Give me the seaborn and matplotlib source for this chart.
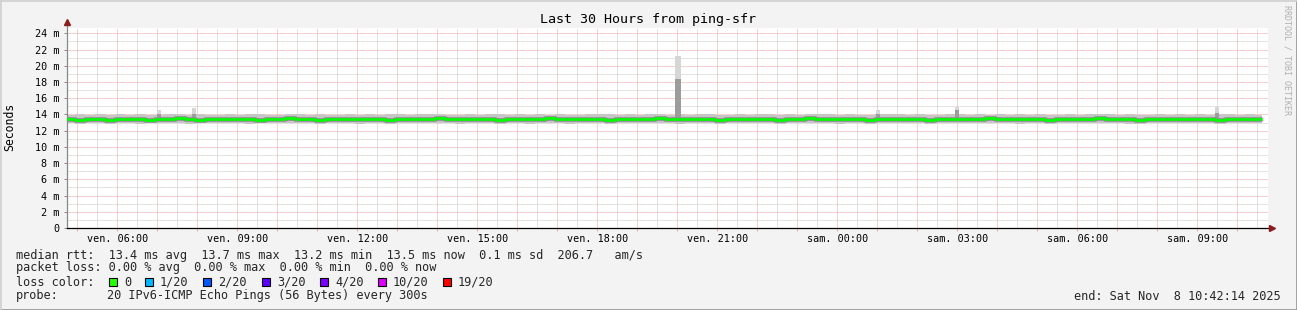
import numpy as np
import pandas as pd
import matplotlib
matplotlib.use("Agg")
import matplotlib.pyplot as plt
import seaborn as sns
from matplotlib.patches import Rectangle
from matplotlib.lines import Line2D

# ---------------- data ----------------
START_HOUR = 4.74          # left edge of the graph (Fri 04:4x)
DATA_END = 34.62           # last data point (Sat ~10:37)
STEP_H = 0.25              # 15-minute aggregation of the readings

median_ms = [
    13.40, 13.35, 13.45, 13.40, 13.35, 13.40, 13.45, 13.40,
    13.35, 13.40, 13.45, 13.50, 13.40, 13.35, 13.40, 13.45,
    13.40, 13.45, 13.40, 13.35, 13.40, 13.45, 13.50, 13.45,
    13.40, 13.35, 13.40, 13.45, 13.40, 13.40, 13.45, 13.40,
    13.35, 13.40, 13.45, 13.40, 13.45, 13.50, 13.45, 13.40,
    13.40, 13.45, 13.40, 13.35, 13.40, 13.45, 13.40, 13.45,
    13.50, 13.45, 13.40, 13.40, 13.45, 13.40, 13.35, 13.40,
    13.45, 13.40, 13.45, 13.50, 13.45, 13.40, 13.40, 13.45,
    13.40, 13.35, 13.40, 13.45, 13.40, 13.45, 13.40, 13.35,
    13.40, 13.45, 13.50, 13.45, 13.40, 13.40, 13.45, 13.40,
    13.35, 13.40, 13.45, 13.40, 13.45, 13.40, 13.35, 13.40,
    13.45, 13.40, 13.40, 13.45, 13.50, 13.45, 13.40, 13.40,
    13.45, 13.40, 13.35, 13.40, 13.45, 13.40, 13.45, 13.50,
    13.45, 13.40, 13.40, 13.35, 13.40, 13.45, 13.40, 13.45,
    13.40, 13.45, 13.40, 13.35, 13.40, 13.45, 13.40, 13.45,
]
smoke_low_ms = [
    12.90, 12.85, 12.95, 12.90, 12.80, 12.90, 12.95, 12.85,
    12.90, 12.95, 12.90, 13.00, 12.85, 12.90, 12.95, 12.90,
    12.95, 12.90, 12.85, 12.90, 12.95, 12.90, 13.00, 12.95,
    12.90, 12.85, 12.90, 12.95, 12.90, 12.85, 12.95, 12.90,
    12.85, 12.90, 12.95, 12.90, 12.95, 13.00, 12.90, 12.85,
    12.90, 12.95, 12.90, 12.85, 12.90, 12.95, 12.85, 12.90,
    12.95, 12.90, 12.85, 12.90, 12.95, 12.90, 12.85, 12.90,
    12.95, 12.90, 12.95, 13.00, 12.90, 12.85, 12.90, 12.95,
    12.90, 12.85, 12.90, 12.95, 12.90, 12.95, 12.90, 12.85,
    12.90, 12.95, 13.00, 12.95, 12.90, 12.85, 12.95, 12.90,
    12.85, 12.90, 12.95, 12.90, 12.95, 12.90, 12.85, 12.90,
    12.95, 12.90, 12.90, 12.95, 13.00, 12.95, 12.90, 12.85,
    12.95, 12.90, 12.85, 12.90, 12.95, 12.90, 12.95, 13.00,
    12.95, 12.90, 12.85, 12.85, 12.90, 12.95, 12.90, 12.95,
    12.90, 12.95, 12.90, 12.85, 12.90, 12.95, 12.90, 12.95,
]
smoke_high_ms = [
    13.95, 14.00, 13.90, 14.00, 13.95, 14.05, 13.95, 14.00,
    13.95, 13.90, 14.00, 14.05, 13.95, 14.00, 13.95, 13.90,
    14.00, 13.95, 14.05, 14.00, 13.95, 13.90, 14.00, 14.05,
    13.95, 14.00, 13.95, 13.90, 14.00, 13.95, 14.00, 13.95,
    14.05, 14.00, 13.95, 14.00, 14.05, 14.00, 13.95, 13.90,
    14.00, 13.95, 14.00, 14.05, 13.95, 14.00, 13.95, 14.00,
    13.95, 14.00, 13.95, 13.90, 14.00, 14.05, 14.00, 13.95,
    14.00, 13.95, 14.05, 14.00, 13.95, 14.00, 13.95, 14.05,
    14.00, 13.95, 13.90, 14.00, 13.95, 14.00, 14.05, 13.95,
    14.00, 13.95, 14.00, 14.05, 14.00, 13.95, 14.00, 13.95,
    13.95, 14.00, 14.05, 14.00, 13.95, 14.00, 13.95, 13.90,
    14.00, 14.05, 13.95, 14.00, 13.95, 14.00, 13.95, 14.00,
    13.95, 14.00, 13.95, 13.90, 14.00, 13.95, 14.00, 14.05,
    14.00, 13.95, 14.00, 13.95, 13.90, 14.00, 13.95, 14.00,
    13.95, 14.00, 13.95, 14.05, 14.00, 13.95, 14.00, 13.95,
]

# isolated 5-minute outliers: start hour, width (h), light top (ms), dark top (ms)
spike_start_h = [7.00, 7.87, 19.94, 24.96, 26.94, 33.44]
spike_width_h = [0.10, 0.10, 0.15, 0.10, 0.10, 0.10]
spike_light_ms = [14.60, 14.80, 21.20, 14.50, 14.90, 14.90]
spike_dark_ms = [14.00, 14.00, 18.40, 14.00, 14.60, 14.20]

y_tick_values = [0, 2, 4, 6, 8, 10, 12, 14, 16, 18, 20, 22, 24]
y_tick_labels = ["0"] + [f"{v} m" for v in y_tick_values[1:]]
x_tick_hours = [6, 9, 12, 15, 18, 21, 24, 27, 30, 33]
x_tick_labels = ["ven. 06:00", "ven. 09:00", "ven. 12:00", "ven. 15:00",
                 "ven. 18:00", "ven. 21:00", "sam. 00:00", "sam. 03:00",
                 "sam. 06:00", "sam. 09:00"]

title = "Last 30 Hours from ping-sfr"
legend_lines = [
    "median rtt:  13.4 ms avg  13.7 ms max  13.2 ms min  13.5 ms now  0.1 ms sd  206.7   am/s",
    "packet loss: 0.00 % avg  0.00 % max  0.00 % min  0.00 % now",
]
loss_labels = ["0", "1/20", "2/20", "3/20", "4/20", "10/20", "19/20"]
loss_colors = ["#26ff00", "#00b8ff", "#0059ff", "#5e00ff", "#7e00ff", "#dd00ff", "#ff0000"]
probe_text = "20 IPv6-ICMP Echo Pings (56 Bytes) every 300s"
end_text = "end: Sat Nov  8 10:42:14 2025"

# ---------------- figure ----------------
W, H = 1297, 310
sns.set_theme(style="white")
plt.rcParams["font.family"] = ["DejaVu Sans Mono", "DejaVu Sans"]

fig = plt.figure(figsize=(W / 100, H / 100), dpi=100, facecolor="#f3f3f3")
AX_L, AX_R, AX_T, AX_B = 67, 1268, 28, 228
ax = fig.add_axes([AX_L / W, (H - AX_B) / H, (AX_R - AX_L) / W, (AX_B - AX_T) / H])
ax.set_facecolor("#ffffff")
PX_PER_H = 40.0
PX_PER_MS = 8.1125
ax.set_xlim(START_HOUR, START_HOUR + (AX_R - AX_L) / PX_PER_H)
ax.set_ylim(0, (AX_B - AX_T) / PX_PER_MS)

# grid
x0, x1 = ax.get_xlim()
y0, y1 = ax.get_ylim()
dot = (0, (1, 1))
half_hours = np.arange(np.ceil(x0 * 2) / 2, x1, 0.5)
minor_x = [h for h in half_hours if abs(h - round(h)) > 1e-6]
major_x = [h for h in half_hours if abs(h - round(h)) <= 1e-6]
GRID_GRAY = "#c9c9c9"
GRID_RED = "#eba4a4"
ax.vlines(minor_x, y0, y1, colors=GRID_GRAY, linestyles=dot, lw=0.72, zorder=0)
ax.hlines(np.arange(1, y1, 2), x0, x1, colors=GRID_GRAY, linestyles=dot, lw=0.72, zorder=0)
ax.vlines(major_x, y0, y1, colors=GRID_RED, linestyles=dot, lw=0.72, zorder=0.5)
ax.hlines(np.arange(2, y1, 2), x0, x1, colors=GRID_RED, linestyles=dot, lw=0.72, zorder=0.5)

# smoke + median
n = len(median_ms)
edges = START_HOUR - 0.04 + np.arange(n + 1) * STEP_H
edges[-1] = DATA_END
df = pd.DataFrame({
    "hour": edges,
    "median": median_ms + [median_ms[-1]],
    "low": smoke_low_ms + [smoke_low_ms[-1]],
    "high": smoke_high_ms + [smoke_high_ms[-1]],
})
ax.fill_between(df["hour"], df["low"], df["high"], step="post",
                color="#c6c6c6", lw=0, zorder=1)
for s, w, lt, dk in zip(spike_start_h, spike_width_h, spike_light_ms, spike_dark_ms):
    ax.fill_between([s, s + w], 13.5, lt, color="#d6d6d6", lw=0, zorder=1.2)
    ax.fill_between([s, s + w], 13.5, dk, color="#9c9c9c", lw=0, zorder=1.3)

sns.lineplot(data=df, x="hour", y="median", ax=ax, drawstyle="steps-post",
             color="#8c8c8c", linewidth=3.3, zorder=2, legend=False,
             solid_capstyle="butt")
sns.lineplot(data=df, x="hour", y="median", ax=ax, drawstyle="steps-post",
             color="#00ff00", linewidth=1.9, zorder=3, legend=False,
             solid_capstyle="butt")
ax.set_xlim(x0, x1)
ax.set_ylim(y0, y1)

# axes styling
for side in ("top", "right"):
    ax.spines[side].set_visible(False)
ax.spines["bottom"].set_color("#000000")
ax.spines["bottom"].set_linewidth(0.9)
ax.spines["left"].set_color("#888888")
ax.spines["left"].set_linewidth(0.9)
ax.spines["left"].set_bounds(y0, y1 + 0.6)

ax.set_xticks(x_tick_hours)
ax.set_xticklabels(x_tick_labels)
ax.set_xticks(major_x, minor=True)
ax.set_yticks(y_tick_values)
ax.set_yticklabels(y_tick_labels)
ax.tick_params(axis="x", which="both", direction="out", length=2.2, width=0.7,
               color=GRID_RED, labelsize=7.3, pad=2.0, labelcolor="#000000", bottom=True)
ax.tick_params(axis="y", which="major", direction="out", length=2.2, width=0.7,
               color="#888888", labelsize=7.3, pad=3.2, labelcolor="#000000", left=True)
ax.set_xlabel("")
ax.set_ylabel("")

# arrow heads
ax.plot([1.0035], [0], marker=">", markersize=4.2, color="#8b1c1c",
        transform=ax.transAxes, clip_on=False, zorder=5)
ax.plot([0], [1.03], marker="^", markersize=4.2, color="#8b1c1c",
        transform=ax.transAxes, clip_on=False, zorder=5)


def ftext(x, y, s, **kw):
    fig.text(x / W, 1 - y / H, s, **kw)


ftext(648, 20, title, ha="center", va="center", fontsize=9.6, color="#000000")
ftext(10, 127, "Seconds", ha="center", va="center", rotation=90, fontsize=8.3, color="#000000")
ftext(1287, 60, "RRDTOOL / TOBI OETIKER", ha="center", va="center", rotation=270,
      fontsize=6.0, color="#b0b0b0")

LEG_FS = 8.6
ftext(16, 255, legend_lines[0], ha="left", va="center", fontsize=LEG_FS)
ftext(16, 268, legend_lines[1], ha="left", va="center", fontsize=LEG_FS)
ftext(16, 282, "loss color:", ha="left", va="center", fontsize=LEG_FS)
box_x = [109, 145, 203, 262, 320, 378, 443]
for bx, lab, col in zip(box_x, loss_labels, loss_colors):
    fig.patches.append(Rectangle((bx / W, 1 - 286 / H), 8 / W, 8 / H,
                                 transform=fig.transFigure, facecolor=col,
                                 edgecolor="#000000", lw=0.8))
    ftext(bx + 15, 282, lab, ha="left", va="center", fontsize=LEG_FS)
ftext(16, 296, "probe:", ha="left", va="center", fontsize=LEG_FS)
ftext(107, 296, probe_text, ha="left", va="center", fontsize=LEG_FS)
ftext(1281, 296, end_text, ha="right", va="center", fontsize=LEG_FS)

# frame of the image
fig.lines.append(Line2D([0, 1], [0.5 / H, 0.5 / H], transform=fig.transFigure,
                        color="#9a9a9a", lw=2.0))
fig.lines.append(Line2D([1 - 0.5 / W, 1 - 0.5 / W], [0, 1], transform=fig.transFigure,
                        color="#9a9a9a", lw=2.0))
fig.lines.append(Line2D([0, 1], [1 - 0.5 / H, 1 - 0.5 / H], transform=fig.transFigure,
                        color="#d0d0d0", lw=1.2))
fig.lines.append(Line2D([0.5 / W, 0.5 / W], [0, 1], transform=fig.transFigure,
                        color="#d0d0d0", lw=1.2))

fig.savefig("out.png", dpi=100, facecolor=fig.get_facecolor())
